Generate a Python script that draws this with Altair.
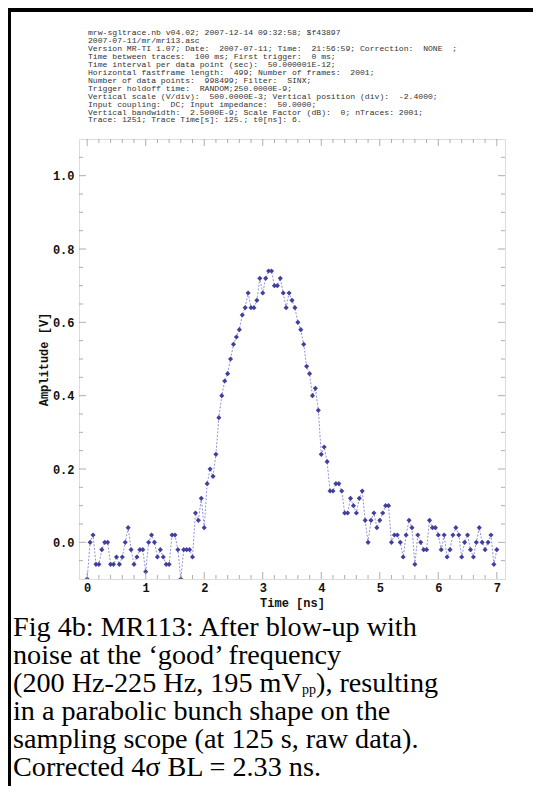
import altair as alt
import pandas as pd

# ---------------- data ----------------
SAMPLE_NS = 0.05  # time interval per data point (50 ps)
amplitude_v = [
    -0.10, 0.00, 0.02, -0.06, -0.06, -0.02, 0.00, 0.00, -0.06, -0.06,
    -0.04, -0.06, -0.04, 0.00, 0.04, -0.02, -0.06, -0.04, -0.02, -0.02,
    -0.08, 0.00, 0.02, 0.00, -0.04, -0.02, -0.04, -0.06, -0.06, 0.02,
    0.02, -0.02, -0.10, -0.02, -0.02, -0.02, -0.04, 0.08, 0.06, 0.12,
    0.04, 0.16, 0.20, 0.18, 0.24, 0.34, 0.40, 0.44, 0.46, 0.50,
    0.54, 0.56, 0.58, 0.62, 0.64, 0.68, 0.64, 0.64, 0.66, 0.72,
    0.68, 0.72, 0.74, 0.74, 0.70, 0.70, 0.72, 0.68, 0.64, 0.68,
    0.66, 0.64, 0.60, 0.58, 0.54, 0.48, 0.46, 0.40, 0.42, 0.36,
    0.24, 0.26, 0.22, 0.14, 0.14, 0.16, 0.16, 0.14, 0.08, 0.08,
    0.12, 0.10, 0.08, 0.12, 0.14, 0.06, 0.00, 0.06, 0.08, 0.04,
    0.06, 0.08, 0.10, 0.10, 0.00, 0.02, 0.02, 0.00, -0.04, 0.02,
    0.06, 0.04, -0.06, 0.02, 0.00, -0.02, -0.02, 0.06, 0.04, 0.04,
    0.02, -0.02, 0.02, -0.04, -0.02, 0.02, 0.04, 0.02, -0.04, 0.00,
    0.02, -0.02, -0.04, 0.00, 0.04, 0.00, -0.02, 0.00, 0.02, -0.06,
    -0.02,
]
time_ns = [round(i * SAMPLE_NS, 2) for i in range(len(amplitude_v))]

x_major = [0, 1, 2, 3, 4, 5, 6, 7]
x_minor = [0.2, 0.4, 0.6, 0.8, 1.2, 1.4, 1.6, 1.8, 2.2, 2.4, 2.6, 2.8,
           3.2, 3.4, 3.6, 3.8, 4.2, 4.4, 4.6, 4.8, 5.2, 5.4, 5.6, 5.8,
           6.2, 6.4, 6.6, 6.8]
y_major = [0.0, 0.2, 0.4, 0.6, 0.8, 1.0]
y_minor = [-0.05, 0.05, 0.1, 0.15, 0.25, 0.3, 0.35, 0.45, 0.5, 0.55,
           0.65, 0.7, 0.75, 0.85, 0.9, 0.95, 1.05]

header_lines = [
    "mrw-sgltrace.nb v04.02; 2007-12-14 09:32:58; $f43897",
    "2007-07-11/mr/mr113.asc",
    "Version MR-TI 1.07; Date:  2007-07-11; Time:  21:56:59; Correction:  NONE  ;",
    "Time between traces:  100 ms; First trigger:  0 ms;",
    "Time interval per data point (sec):  50.000001E-12;",
    "Horizontal fastframe length:  499; Number of frames:  2001;",
    "Number of data points:  998499; Filter:  SINX;",
    "Trigger holdoff time:  RANDOM;250.0000E-9;",
    "Vertical scale (V/div):  500.0000E-3; Vertical position (div):  -2.4000;",
    "Input coupling:  DC; Input impedance:  50.0000;",
    "Vertical bandwidth:  2.5000E-9; Scale Factor (dB):  0; nTraces: 2001;",
    "Trace: 1251; Trace Time[s]: 125.; t0[ns]: 6.",
]
caption_lines = [
    "Fig 4b: MR113: After blow-up with",
    "noise at the \u2018good\u2019 frequency",
    None,  # composed line with subscript
    "in a parabolic bunch shape on the",
    "sampling scope (at 125 s, raw data).",
    "Corrected 4\u03c3 BL = 2.33 ns.",
]
cap3_a = "(200 Hz-225 Hz, 195 mV"
cap3_sub = "pp"
cap3_b = "), resulting"

# ---------------- layout (pixels) ----------------
W, H = 426, 440
PAGE_X0, PAGE_Y0 = 79, 139          # plot frame top-left on the page
def vx(px):
    return px - PAGE_X0
def vy(py):
    return py - PAGE_Y0

MONO = "Liberation Mono"
SERIF = "Liberation Serif"
CAP_FS = 28.2
CAP_LH = 28
CAP_X = 13
CAP_BASE0 = 636
TICK_C = "#9a9a9a"
AX_FS = 12


def nbsp(s):
    return s.replace("  ", " \u00a0")


df = pd.DataFrame({"time": time_ns, "amp": amplitude_v})
one = pd.DataFrame({"k": [0]})

xscale = alt.Scale(domain=[-0.14, 7.14], nice=False, zero=False)
yscale = alt.Scale(domain=[-0.1, 1.1], nice=False, zero=False)

xaxis = alt.Axis(values=x_major, format="d", ticks=False, domain=False, grid=False,
                 labelFont=MONO, labelFontWeight="bold", labelFontSize=AX_FS,
                 labelColor="#111", labelPadding=3,
                 title="Time [ns]", titleFont=MONO, titleFontWeight="bold",
                 titleFontSize=AX_FS, titleColor="#111", titlePadding=4)
yaxis = alt.Axis(values=y_major, format=".1f", ticks=False, domain=False, grid=False,
                 labelFont=MONO, labelFontWeight="bold", labelFontSize=AX_FS,
                 labelColor="#111", labelPadding=5,
                 title="Amplitude [V]", titleFont=MONO, titleFontWeight="bold",
                 titleFontSize=AX_FS, titleColor="#111", titlePadding=2)

line = alt.Chart(df).mark_line(
    color="#8585d2", strokeWidth=0.9, strokeDash=[2, 1.6], clip=True
).encode(
    x=alt.X("time:Q", scale=xscale, axis=xaxis),
    y=alt.Y("amp:Q", scale=yscale, axis=yaxis),
)
points = alt.Chart(df).mark_point(
    shape="diamond", filled=True, size=26, color="#40409c", opacity=1, clip=True
).encode(x=alt.X("time:Q", scale=xscale), y=alt.Y("amp:Q", scale=yscale))


# frame ticks (inside, all four sides)
def xticks(values, length):
    d = pd.DataFrame({"t": values})
    bot = alt.Chart(d).mark_rule(color=TICK_C, strokeWidth=0.8).encode(
        x=alt.X("t:Q", scale=xscale), y=alt.value(H), y2=alt.value(H - length))
    top = alt.Chart(d).mark_rule(color=TICK_C, strokeWidth=0.8).encode(
        x=alt.X("t:Q", scale=xscale), y=alt.value(0), y2=alt.value(length))
    return [bot, top]


def yticks(values, length):
    d = pd.DataFrame({"v": values})
    left = alt.Chart(d).mark_rule(color=TICK_C, strokeWidth=0.8).encode(
        y=alt.Y("v:Q", scale=yscale), x=alt.value(0), x2=alt.value(length))
    right = alt.Chart(d).mark_rule(color=TICK_C, strokeWidth=0.8).encode(
        y=alt.Y("v:Q", scale=yscale), x=alt.value(W), x2=alt.value(W - length))
    return [left, right]


tick_layers = xticks(x_major, 7) + xticks(x_minor, 4) + yticks(y_major, 7) + yticks(y_minor, 4)

# header text
header = alt.Chart(one).mark_text(
    font=MONO, fontSize=8.1, align="left", baseline="top", lineHeight=7.95, color="#333"
).encode(x=alt.value(vx(88)), y=alt.value(vy(29)),
         text=alt.value([nbsp(s) for s in header_lines]))

# caption
cap_layers = []
for i, s in enumerate(caption_lines):
    if s is None:
        continue
    cap_layers.append(alt.Chart(one).mark_text(
        font=SERIF, fontSize=CAP_FS, align="left", baseline="alphabetic", color="black"
    ).encode(x=alt.value(vx(CAP_X)), y=alt.value(vy(CAP_BASE0 + i * CAP_LH)),
             text=alt.value(s)))
b3 = CAP_BASE0 + 2 * CAP_LH
w_a = 10.248 * CAP_FS
sub_fs = 14
cap_layers.append(alt.Chart(one).mark_text(
    font=SERIF, fontSize=CAP_FS, align="left", baseline="alphabetic", color="black"
).encode(x=alt.value(vx(CAP_X)), y=alt.value(vy(b3)), text=alt.value(cap3_a)))
cap_layers.append(alt.Chart(one).mark_text(
    font=SERIF, fontSize=sub_fs, align="left", baseline="alphabetic", color="black"
).encode(x=alt.value(vx(CAP_X + w_a)), y=alt.value(vy(b3 + 2)), text=alt.value(cap3_sub)))
cap_layers.append(alt.Chart(one).mark_text(
    font=SERIF, fontSize=CAP_FS, align="left", baseline="alphabetic", color="black"
).encode(x=alt.value(vx(CAP_X + w_a + 1.0 * sub_fs)), y=alt.value(vy(b3)),
         text=alt.value(cap3_b)))

# black border lines (top band and left edge)
top_band = alt.Chart(one).mark_rule(color="black", strokeWidth=4).encode(
    x=alt.value(vx(8)), x2=alt.value(vx(533)), y=alt.value(vy(10)))
left_line = alt.Chart(one).mark_rule(color="black", strokeWidth=3).encode(
    x=alt.value(vx(9.5)), y=alt.value(vy(8)), y2=alt.value(vy(786)))

chart = alt.layer(
    line, points, *tick_layers, header, *cap_layers, top_band, left_line
).properties(
    width=W, height=H,
    padding={"left": PAGE_X0 - 8, "top": PAGE_Y0 - 8, "right": 533 - (PAGE_X0 + W),
             "bottom": 786 - (PAGE_Y0 + H)},
    autosize=alt.AutoSizeParams(type="none"),
).configure_view(stroke="#b5b5b5", strokeWidth=1).configure(background="white")

chart.save("out.html", embed_options={"renderer": "svg", "actions": False})
